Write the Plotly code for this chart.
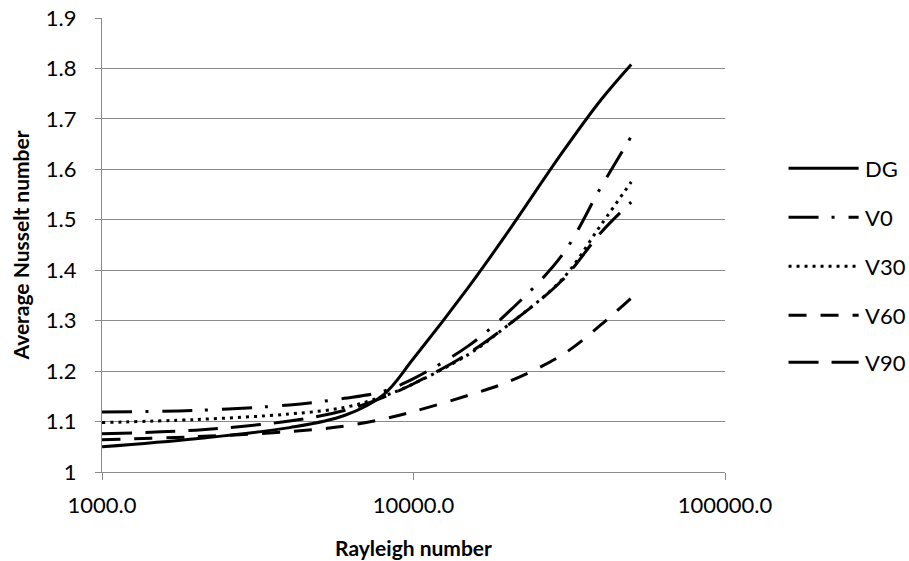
import plotly.graph_objects as go

# ---- data ----
ra = [1000, 2000, 4000, 6000, 8000, 10000, 15000, 20000, 30000, 40000, 50000]
dg = [1.050, 1.066, 1.088, 1.112, 1.153, 1.225, 1.366, 1.474, 1.633, 1.738, 1.808]
v0 = [1.119, 1.122, 1.133, 1.146, 1.160, 1.185, 1.250, 1.315, 1.430, 1.565, 1.665]
v30 = [1.098, 1.104, 1.115, 1.128, 1.150, 1.175, 1.233, 1.290, 1.382, 1.490, 1.575]
v60 = [1.064, 1.070, 1.080, 1.091, 1.105, 1.120, 1.152, 1.178, 1.232, 1.292, 1.345]
v90 = [1.076, 1.083, 1.101, 1.122, 1.148, 1.175, 1.235, 1.290, 1.380, 1.475, 1.535]

series_names = ["DG", "V0", "V30", "V60", "V90"]
series_vals = [dg, v0, v30, v60, v90]
dashes = ["solid", "30px,13px,3px,14px", "3px,5px", "18px,14px", "30px,13px"]

x_tickvals = [1000, 10000, 100000]
x_ticktext = ["1000.0", "10000.0", "100000.0"]
y_tickvals = [1.0, 1.1, 1.2, 1.3, 1.4, 1.5, 1.6, 1.7, 1.8, 1.9]
y_ticktext = ["1", "1.1", "1.2", "1.3", "1.4", "1.5", "1.6", "1.7", "1.8", "1.9"]

FONT = "Lato"
LW = 3

fig = go.Figure()
for name, vals, dash in zip(series_names, series_vals, dashes):
    fig.add_trace(go.Scatter(
        x=ra, y=vals, name=name, mode="lines",
        line=dict(color="black", width=LW, dash=dash, shape="spline", smoothing=1.0),
        showlegend=False,
    ))

# manual legend (long line samples like the original)
legend_y = [0.669, 0.561, 0.453, 0.345, 0.242]
for name, dash, ly in zip(series_names, dashes, legend_y):
    fig.add_shape(type="line", xref="paper", yref="paper",
                  x0=1.102, x1=1.2145, y0=ly, y1=ly,
                  line=dict(color="black", width=LW, dash=dash))
    fig.add_annotation(xref="paper", yref="paper", x=1.222, y=ly,
                       text=name, showarrow=False, xanchor="left", yanchor="middle",
                       font=dict(family=FONT, size=22, color="black"))

grid = "#8a8a8a"
fig.update_layout(
    width=909, height=561,
    margin=dict(l=102, r=184, t=18, b=89),
    paper_bgcolor="white", plot_bgcolor="white",
    font=dict(family=FONT, size=22, color="black"),
    xaxis=dict(
        type="log", range=[3, 5], automargin=False,
        tickvals=x_tickvals, ticktext=x_ticktext,
        showgrid=False, zeroline=False,
        showline=True, linecolor=grid, linewidth=1.3,
        ticks="outside", ticklen=7, tickcolor=grid, tickwidth=1.3,
        ticklabelstandoff=6,
        title=dict(text="<b>Rayleigh number</b>", font=dict(family=FONT, size=21), standoff=24),
    ),
    yaxis=dict(
        range=[1.0, 1.9], automargin=False,
        tickvals=y_tickvals, ticktext=y_ticktext,
        showgrid=True, gridcolor=grid, gridwidth=1.3,
        zeroline=False,
        showline=True, linecolor=grid, linewidth=1.3,
        ticks="outside", ticklen=6, tickcolor=grid, tickwidth=1.3,
        ticklabelstandoff=14,
        title=dict(text="<b>Average Nusselt number</b>", font=dict(family=FONT, size=21), standoff=10),
    ),
)

fig.write_html("out.html")
